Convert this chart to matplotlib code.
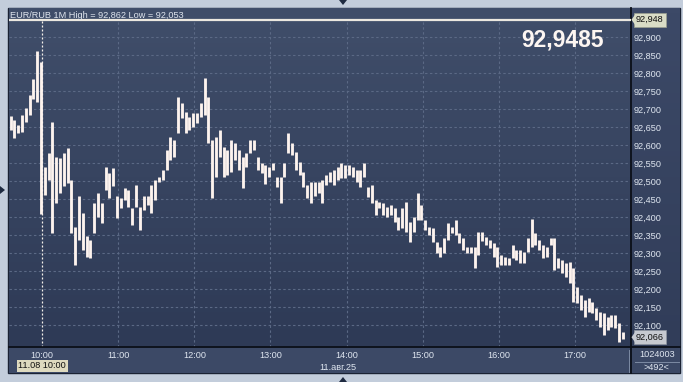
import numpy as np
import matplotlib
matplotlib.use("Agg")
import matplotlib.pyplot as plt
from matplotlib.patches import Rectangle, Polygon
from matplotlib.lines import Line2D
import matplotlib.transforms as mtransforms

# ---------------- data ----------------
bar_start_min = -25          # minutes relative to 10:00 (first 3-min bar)
bar_step_min = 3
highs = [
    92.681, 92.670, 92.656, 92.684, 92.702, 92.739, 92.783, 92.862, 92.830, 92.540,
    92.577, 92.665, 92.568, 92.563, 92.577, 92.591, 92.503, 92.373, 92.457, 92.410,
    92.346, 92.336, 92.438, 92.466, 92.438, 92.540, 92.522, 92.536, 92.457, 92.452,
    92.480, 92.475, 92.424, 92.489, 92.429, 92.457, 92.457, 92.489, 92.503, 92.512,
    92.531, 92.586, 92.623, 92.614, 92.734, 92.716, 92.693, 92.679, 92.688, 92.688,
    92.716, 92.785, 92.734, 92.614, 92.623, 92.642, 92.595, 92.586, 92.614, 92.605,
    92.586, 92.568, 92.577, 92.614, 92.614, 92.568, 92.549, 92.544, 92.540, 92.549,
    92.512, 92.512, 92.549, 92.632, 92.605, 92.581, 92.554, 92.526, 92.489, 92.498,
    92.498, 92.498, 92.503, 92.517, 92.526, 92.530, 92.540, 92.551, 92.544, 92.544,
    92.540, 92.530, 92.530, 92.549, 92.484, 92.489, 92.447, 92.443, 92.438, 92.429,
    92.433, 92.424, 92.401, 92.424, 92.443, 92.387, 92.401, 92.466, 92.433, 92.392,
    92.373, 92.369, 92.331, 92.318, 92.341, 92.382, 92.373, 92.392, 92.355, 92.341,
    92.318, 92.318, 92.318, 92.359, 92.359, 92.345, 92.336, 92.327, 92.318, 92.295,
    92.290, 92.285, 92.322, 92.308, 92.308, 92.304, 92.341, 92.394, 92.355, 92.336,
    92.322, 92.318, 92.341, 92.341, 92.285, 92.280, 92.271, 92.276, 92.257, 92.206,
    92.183, 92.169, 92.174, 92.165, 92.146, 92.137, 92.132, 92.123, 92.128, 92.128,
    92.105, 92.081,
]
lows = [
    92.642, 92.619, 92.633, 92.637, 92.665, 92.684, 92.727, 92.720, 92.408, 92.461,
    92.503, 92.355, 92.438, 92.466, 92.485, 92.494, 92.355, 92.267, 92.336, 92.309,
    92.290, 92.286, 92.355, 92.401, 92.383, 92.475, 92.452, 92.485, 92.397, 92.424,
    92.448, 92.429, 92.378, 92.429, 92.364, 92.420, 92.434, 92.410, 92.448, 92.498,
    92.503, 92.530, 92.558, 92.568, 92.632, 92.674, 92.632, 92.642, 92.651, 92.660,
    92.679, 92.684, 92.605, 92.452, 92.512, 92.568, 92.512, 92.517, 92.526, 92.558,
    92.530, 92.480, 92.540, 92.577, 92.586, 92.530, 92.521, 92.493, 92.512, 92.530,
    92.484, 92.438, 92.512, 92.577, 92.572, 92.530, 92.517, 92.484, 92.452, 92.438,
    92.457, 92.466, 92.440, 92.489, 92.498, 92.489, 92.503, 92.507, 92.507, 92.517,
    92.512, 92.498, 92.484, 92.512, 92.456, 92.438, 92.405, 92.424, 92.405, 92.401,
    92.405, 92.387, 92.364, 92.369, 92.359, 92.331, 92.359, 92.392, 92.392, 92.364,
    92.350, 92.331, 92.299, 92.290, 92.299, 92.336, 92.355, 92.350, 92.327, 92.308,
    92.299, 92.299, 92.257, 92.295, 92.332, 92.322, 92.313, 92.290, 92.262, 92.267,
    92.267, 92.267, 92.285, 92.281, 92.271, 92.271, 92.304, 92.318, 92.322, 92.308,
    92.285, 92.290, 92.322, 92.253, 92.257, 92.244, 92.234, 92.216, 92.165, 92.160,
    92.142, 92.123, 92.137, 92.132, 92.114, 92.095, 92.072, 92.086, 92.095, 92.091,
    92.054, 92.060,
]
hour_ticks = [0, 60, 120, 180, 240, 300, 360, 420]
hour_labels = ["10:00", "11:00", "12:00", "13:00", "14:00", "15:00", "16:00", "17:00"]
price_ticks = [92.10, 92.15, 92.20, 92.25, 92.30, 92.35, 92.40, 92.45, 92.50,
               92.55, 92.60, 92.65, 92.70, 92.75, 92.80, 92.85, 92.90]
top_line_price = 92.948
last_price = 92.066
big_quote = "92,9485"
header = "EUR/RUB 1M High = 92,862 Low = 92,053"
date_label = "11.авг.25"
cursor_label = "11.08 10:00"
volume_label = "1024003"
count_label = ">492<"

# ---------------- layout ----------------
W, H = 683, 382
fig = plt.figure(figsize=(W / 100, H / 100), dpi=100)
fig.patch.set_facecolor("#c3cddb")
FONT = ["Liberation Sans", "DejaVu Sans"]
FS = 6.6

def fx(x):
    return x / W

def fy(y):
    return 1 - y / H

def frect(x0, y0, x1, y1, z, **kw):
    r = Rectangle((fx(x0), fy(y1)), fx(x1) - fx(x0), fy(y0) - fy(y1),
                  transform=fig.transFigure, zorder=z, **kw)
    fig.patches.append(r)
    return r

def fline(xs, ys, **kw):
    fig.lines.append(Line2D([fx(x) for x in xs], [fy(y) for y in ys],
                            transform=fig.transFigure, **kw))

# outer panel and strips (behind axes)
frect(8, 8, 680, 373, -3, facecolor="#34415d", edgecolor="#1a2233", linewidth=1.0)
frect(8.5, 347, 631, 372.5, -2, facecolor="#3c4966", edgecolor="none")
frect(631, 347, 679.5, 372.5, -2, facecolor="#3b4865", edgecolor="none")

# y-panel gradient
axy = fig.add_axes([fx(631), fy(347), fx(680) - fx(631), fy(8) - fy(347)])
axy.set_zorder(-1)
axy.set_axis_off()
gy = np.linspace(0, 1, 64)[:, None]
c_top = np.array([0x3c, 0x49, 0x67]) / 255
c_bot = np.array([0x31, 0x3d, 0x59]) / 255
axy.imshow((c_top[None, None, :] * (1 - gy[..., None]) + c_bot[None, None, :] * gy[..., None]),
           aspect="auto", extent=(0, 1, 0, 1), zorder=0)

# main axes
x0m = (9 - 42.3) / 1.2676
x1m = (631 - 42.3) / 1.2676
ybot = 92.900 - (347 - 37) / 360
ytop = 92.900 + (37 - 8) / 360
ax = fig.add_axes([fx(9), fy(347), fx(631) - fx(9), fy(8) - fy(347)])
ax.set_zorder(1)
ax.set_xlim(x0m, x1m)
ax.set_ylim(ybot, ytop)

g = np.linspace(0, 1, 128)[:, None]
m_top = np.array([0x40, 0x4e, 0x6a]) / 255
m_bot = np.array([0x2e, 0x3a, 0x56]) / 255
grad = m_top[None, None, :] * (1 - g[..., None]) + m_bot[None, None, :] * g[..., None]
ax.imshow(grad, aspect="auto", extent=(x0m, x1m, ybot, ytop), zorder=0)

# grid
for p in price_ticks:
    ax.axhline(p, color="#5b6985", lw=0.8, linestyle=(0, (2.2, 2.2)), zorder=1)
ymax_frac = (top_line_price - ybot) / (ytop - ybot)
for h in hour_ticks:
    if h == 0:
        continue
    ax.axvline(h, ymax=ymax_frac, color="#5b6985", lw=0.8,
               linestyle=(0, (2.2, 2.2)), zorder=1)
ax.axvline(0, ymax=ymax_frac, color="#f4f0ea", lw=0.9,
           linestyle=(0, (1.6, 1.6)), zorder=1)

# price bars
times = [bar_start_min + bar_step_min * i for i in range(len(highs))]
ax.vlines(times, lows, highs, colors="#fdf3ee", linewidth=2.05, zorder=3)

# top price line
ax.axhline(top_line_price, color="#ece8e0", lw=1.6, zorder=4)

# ticks
ax.set_xticks(hour_ticks)
ax.set_xticklabels(hour_labels)
ax.set_yticks(price_ticks)
ax.set_yticklabels([f"{p:.3f}".replace(".", ",") for p in price_ticks])
ax.yaxis.tick_right()
ax.tick_params(axis="x", length=0, pad=2.8, labelsize=FS, labelcolor="#dfe6f0")
ax.tick_params(axis="y", length=0, pad=2.2, labelsize=FS, labelcolor="#dfe6f0")
for lab in ax.get_xticklabels() + ax.get_yticklabels():
    lab.set_fontfamily(FONT)
for s in ["top", "left"]:
    ax.spines[s].set_visible(False)
ax.spines["right"].set_color("#0b0f18")
ax.spines["right"].set_linewidth(1.3)
ax.spines["bottom"].set_color("#0b0f18")
ax.spines["bottom"].set_linewidth(1.3)

# continuation of separators
fline([631, 680], [347, 347], color="#0b0f18", lw=1.3, zorder=5)
fline([631.3, 631.3], [347, 373], color="#0b0f18", lw=1.3, zorder=5)
fline([628.5, 628.5], [350, 372], color="#7d8ba3", lw=0.7, zorder=5)
fline([635, 679], [361.5, 361.5], color="#7d8ba3", lw=0.7, zorder=5)

# header and big quote
fig.text(fx(10), fy(15), header, fontsize=FS, color="#dfe5ee", family=FONT,
         ha="left", va="center", zorder=6)
fig.text(fx(563), fy(40), big_quote, fontsize=16.5, color="#fdf6f2", family=FONT,
         fontweight="bold", ha="center", va="center", zorder=6)

# price boxes on y panel
bt = mtransforms.blended_transform_factory(fig.transFigure, ax.transData)
for pr, col, ec in [(top_line_price, "#d9dcc6", "#9aa090"), (last_price, "#c6c9d0", "#9096a2")]:
    ax.text(fx(636), pr, f"{pr:.3f}".replace(".", ","),
            transform=bt, fontsize=FS, family=FONT, color="#111111", ha="left", va="center",
            bbox=dict(boxstyle="square,pad=0.25", facecolor=col, edgecolor=ec, lw=0.5),
            clip_on=False, zorder=10)
    ypix = 37 + (92.900 - pr) * 360
    fig.patches.append(Polygon([(fx(631.5), fy(ypix)), (fx(635.0), fy(ypix - 5)),
                                (fx(635.0), fy(ypix + 5))], closed=True,
                               transform=fig.transFigure, facecolor=col,
                               edgecolor="none", zorder=11))

# bottom strip texts
fig.text(fx(42.3), fy(366), cursor_label, fontsize=FS, family=FONT, color="#111111",
         ha="center", va="center", zorder=6,
         bbox=dict(boxstyle="square,pad=0.2", facecolor="#dedabf", edgecolor="none"))
fig.text(fx(338), fy(367), date_label, fontsize=FS, family=FONT, color="#dfe6f0",
         ha="center", va="center", zorder=6)
fig.text(fx(657), fy(354.5), volume_label, fontsize=FS, family=FONT, color="#dfe6f0",
         ha="center", va="center", zorder=6)
fig.text(fx(656.5), fy(367.5), count_label, fontsize=FS, family=FONT, color="#dfe6f0",
         ha="center", va="center", zorder=6)

# small frame markers
mk = "#1e2a40"
for pts in ([(339, 0), (347, 0), (343, 5)],
            [(0, 186), (0, 194), (5, 190)],
            [(339, 382), (347, 382), (343, 377)]):
    fig.patches.append(Polygon([(fx(a), fy(b)) for a, b in pts], closed=True,
                               transform=fig.transFigure, facecolor=mk,
                               edgecolor="none", zorder=12))

fig.savefig("out.png", dpi=100)
